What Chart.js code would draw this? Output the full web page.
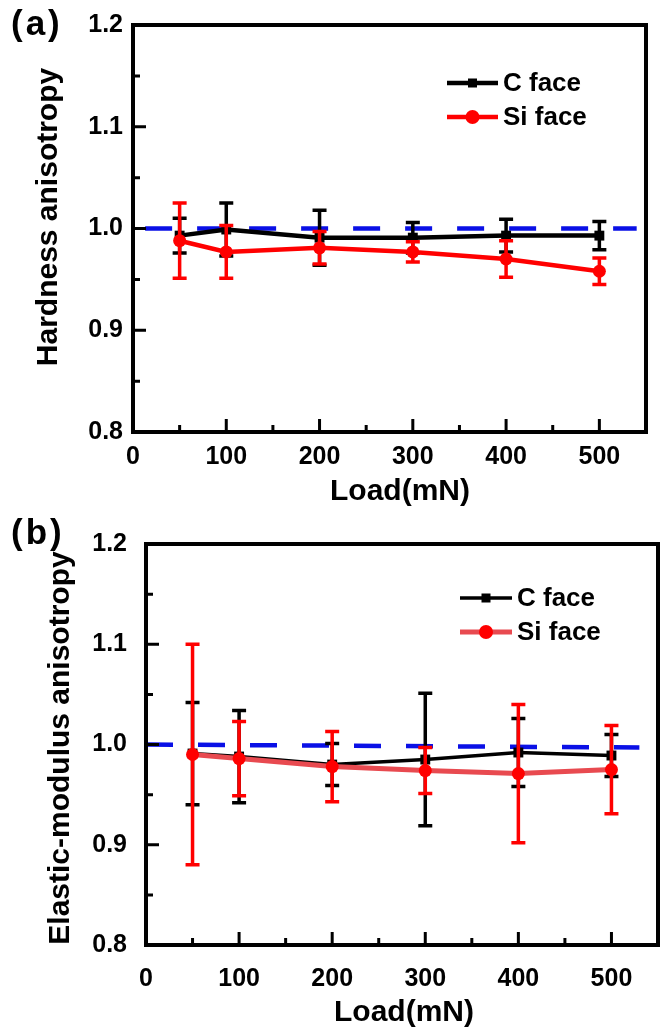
<!DOCTYPE html>
<html>
<head>
<meta charset="utf-8">
<script src="https://cdn.jsdelivr.net/npm/chart.js@4.4.1/dist/chart.umd.min.js"></script>
<style>
  html, body { margin: 0; padding: 0; background: #ffffff; }
  .panel { position: absolute; left: 0; }
</style>
</head>
<body>
<div class="panel" style="top:0px"><canvas id="chartA" width="665" height="510"></canvas></div>
<div class="panel" style="top:510px"><canvas id="chartB" width="665" height="522"></canvas></div>
<script>
// ---------------- data ----------------
const loads = [50, 100, 200, 300, 400, 500];

const hardnessC      = [0.993, 0.999, 0.991, 0.991, 0.993, 0.993];
const hardnessCErr   = [0.017, 0.026, 0.027, 0.015, 0.016, 0.014];
const hardnessSi     = [0.988, 0.977, 0.981, 0.977, 0.970, 0.958];
const hardnessSiErr  = [0.037, 0.026, 0.016, 0.010, 0.018, 0.013];

const modulusC       = [0.991, 0.988, 0.980, 0.985, 0.992, 0.989];
const modulusCErr    = [0.051, 0.046, 0.021, 0.066, 0.034, 0.021];
const modulusSi      = [0.990, 0.986, 0.978, 0.974, 0.971, 0.975];
const modulusSiErr   = [0.110, 0.037, 0.035, 0.023, 0.069, 0.044];

const refLineAX = [13, 540];
const refLineAY = [1.0, 1.0];
const refLineBX = [0, 530];
const refLineBY = [1.0, 0.997];

const xTickValues = [0, 100, 200, 300, 400, 500];
const xMinorValues = [50, 150, 250, 350, 450];
const yTickValues = [0.8, 0.9, 1.0, 1.1, 1.2];
const yMinorValues = [0.85, 0.95, 1.05, 1.15];

const seriesLabels = ['C face', 'Si face'];
const panelLabels = ['(a)', '(b)'];
const yTitles = ['Hardness anisotropy', 'Elastic-modulus anisotropy'];
const xTitle = 'Load(mN)';

// ---------------- helpers ----------------
const FONT = "'Liberation Sans', Arial, Helvetica, sans-serif";
Chart.defaults.font.family = FONT;
Chart.defaults.color = '#000';

function pts(xs, ys) { return xs.map((x, i) => ({ x: x, y: ys[i] })); }

const errorBarsPlugin = {
  id: 'errorBars',
  beforeDatasetDraw(chart, args) {
    const ds = chart.data.datasets[args.index];
    if (!ds.errors) return;
    const ctx = chart.ctx, ys = chart.scales.y;
    ctx.save();
    ctx.strokeStyle = ds.errorColor;
    ctx.lineWidth = ds.errorWidth || 3.5;
    ctx.lineCap = 'butt';
    args.meta.data.forEach((el, i) => {
      const v = ds.data[i].y, e = ds.errors[i];
      const yt = ys.getPixelForValue(v + e), yb = ys.getPixelForValue(v - e);
      const c = 7;
      ctx.beginPath();
      ctx.moveTo(el.x, yt); ctx.lineTo(el.x, yb);
      ctx.moveTo(el.x - c, yt); ctx.lineTo(el.x + c, yt);
      ctx.moveTo(el.x - c, yb); ctx.lineTo(el.x + c, yb);
      ctx.stroke();
    });
    ctx.restore();
  }
};

const framePlugin = {
  id: 'frameTicks',
  afterDatasetsDraw(chart) {
    const ctx = chart.ctx, a = chart.chartArea, xs = chart.scales.x, ys = chart.scales.y;
    ctx.save();
    ctx.strokeStyle = '#000';
    ctx.lineWidth = 3;
    ctx.beginPath();
    xTickValues.forEach(v => { const p = xs.getPixelForValue(v); ctx.moveTo(p, a.bottom); ctx.lineTo(p, a.bottom - 13); });
    xMinorValues.forEach(v => { const p = xs.getPixelForValue(v); ctx.moveTo(p, a.bottom); ctx.lineTo(p, a.bottom - 7); });
    yTickValues.forEach(v => { const p = ys.getPixelForValue(v); ctx.moveTo(a.left, p); ctx.lineTo(a.left + 13, p); });
    yMinorValues.forEach(v => { const p = ys.getPixelForValue(v); ctx.moveTo(a.left, p); ctx.lineTo(a.left + 7, p); });
    ctx.stroke();
    ctx.lineWidth = 4;
    ctx.strokeRect(a.left, a.top, a.right - a.left, a.bottom - a.top);
    ctx.restore();
  }
};

const textPlugin = {
  id: 'panelText',
  afterDraw(chart, args, o) {
    const ctx = chart.ctx;
    ctx.save();
    ctx.fillStyle = '#000';
    ctx.textBaseline = 'middle';
    // panel label
    ctx.font = 'bold 35px ' + FONT;
    ctx.textAlign = 'left';
    if ('letterSpacing' in ctx) ctx.letterSpacing = '3px';
    ctx.fillText(o.panel, o.panelPos[0], o.panelPos[1]);
    if ('letterSpacing' in ctx) ctx.letterSpacing = '0px';
    // x title
    ctx.font = 'bold 30px ' + FONT;
    ctx.textAlign = 'center';
    ctx.fillText(o.xTitle, o.xTitlePos[0], o.xTitlePos[1]);
    // y title
    ctx.translate(o.yTitlePos[0], o.yTitlePos[1]);
    ctx.rotate(-Math.PI / 2);
    ctx.fillText(o.yTitle, 0, 0);
    ctx.restore();

    // legend
    ctx.save();
    const lg = o.legend;
    const items = chart.data.datasets.filter(d => d.inLegend);
    items.forEach((d, i) => {
      const yy = lg.y + i * lg.gap;
      ctx.strokeStyle = d.borderColor;
      ctx.lineWidth = d.borderWidth;
      ctx.beginPath(); ctx.moveTo(lg.x0, yy); ctx.lineTo(lg.x1, yy); ctx.stroke();
      ctx.fillStyle = d.pointBackgroundColor;
      const mx = (lg.x0 + lg.x1) / 2;
      if (d.pointStyle === 'rect') {
        const s = 9;
        ctx.fillRect(mx - s / 2, yy - s / 2, s, s);
      } else {
        ctx.beginPath(); ctx.arc(mx, yy, 7, 0, Math.PI * 2); ctx.fill();
      }
      ctx.fillStyle = '#000';
      ctx.font = 'bold 26px ' + FONT;
      ctx.textAlign = 'left';
      ctx.textBaseline = 'middle';
      ctx.fillText(d.label, lg.x1 + 5, yy + 1);
    });
    ctx.restore();
  }
};

function makePanel(id, g) {
  return new Chart(document.getElementById(id), {
    type: 'line',
    data: {
      datasets: [
        {
          label: 'ref', data: pts(g.refX, g.refY), borderColor: '#0a10e6', borderWidth: 4.5,
          borderDash: [27, 25], pointRadius: 0, inLegend: false, order: 3
        },
        {
          label: seriesLabels[0], data: pts(loads, g.c), borderColor: '#000', borderWidth: g.cWidth,
          pointStyle: 'rect', pointRadius: 7, pointBackgroundColor: '#000', pointBorderColor: '#000', pointBorderWidth: 0,
          errors: g.cErr, errorColor: '#000', inLegend: true, order: 2
        },
        {
          label: seriesLabels[1], data: pts(loads, g.si), borderColor: g.siLine, borderWidth: g.siWidth,
          pointStyle: 'circle', pointRadius: 6.5, pointBackgroundColor: '#ff0000', pointBorderColor: '#ff0000', pointBorderWidth: 0,
          errors: g.siErr, errorColor: '#ff0000', inLegend: true, order: 1
        }
      ]
    },
    options: {
      responsive: false,
      animation: false,
      devicePixelRatio: 1,
      layout: { padding: { top: g.padTop, right: g.padRight, left: 0, bottom: 0 } },
      plugins: {
        legend: { display: false },
        tooltip: { enabled: false },
        panelText: {
          panel: g.panel, panelPos: g.panelPos,
          xTitle: xTitle, xTitlePos: g.xTitlePos,
          yTitle: g.yTitle, yTitlePos: g.yTitlePos,
          legend: g.legend
        }
      },
      scales: {
        x: {
          type: 'linear', min: 0, max: 550,
          grid: { display: false, drawTicks: false },
          border: { display: false },
          afterBuildTicks: s => { s.ticks = xTickValues.map(v => ({ value: v })); },
          afterFit: s => { s.height = g.xAxisH; },
          ticks: { font: { size: 25, weight: 'bold' }, padding: g.tickPad, maxRotation: 0, autoSkip: false }
        },
        y: {
          type: 'linear', min: 0.8, max: 1.2,
          grid: { display: false, drawTicks: false },
          border: { display: false },
          afterBuildTicks: s => { s.ticks = yTickValues.map(v => ({ value: v })); },
          afterFit: s => { s.width = g.yAxisW; },
          ticks: { font: { size: 25, weight: 'bold' }, padding: g.tickPad, callback: v => Number(v).toFixed(1) }
        }
      }
    },
    plugins: [errorBarsPlugin, framePlugin, textPlugin]
  });
}

makePanel('chartA', {
  refX: refLineAX, refY: refLineAY,
  c: hardnessC, cErr: hardnessCErr, si: hardnessSi, siErr: hardnessSiErr,
  cWidth: 4.5, siWidth: 4.5, siLine: '#ff0000',
  padTop: 19, padRight: 19, xAxisH: 78, yAxisW: 133, tickPad: 10,
  panel: panelLabels[0], panelPos: [11, 25],
  yTitle: yTitles[0], yTitlePos: [49, 217],
  xTitlePos: [400, 492],
  legend: { x0: 447, x1: 498, y: 83, gap: 34 }
});

makePanel('chartB', {
  refX: refLineBX, refY: refLineBY,
  c: modulusC, cErr: modulusCErr, si: modulusSi, siErr: modulusSiErr,
  cWidth: 3.5, siWidth: 5, siLine: '#e84a50',
  padTop: 24, padRight: 7, xAxisH: 87, yAxisW: 146, tickPad: 19,
  panel: panelLabels[1], panelPos: [11, 24],
  yTitle: yTitles[1], yTitlePos: [61, 238],
  xTitlePos: [404, 503],
  legend: { x0: 460, x1: 512, y: 88, gap: 34 }
});
</script>
</body>
</html>
